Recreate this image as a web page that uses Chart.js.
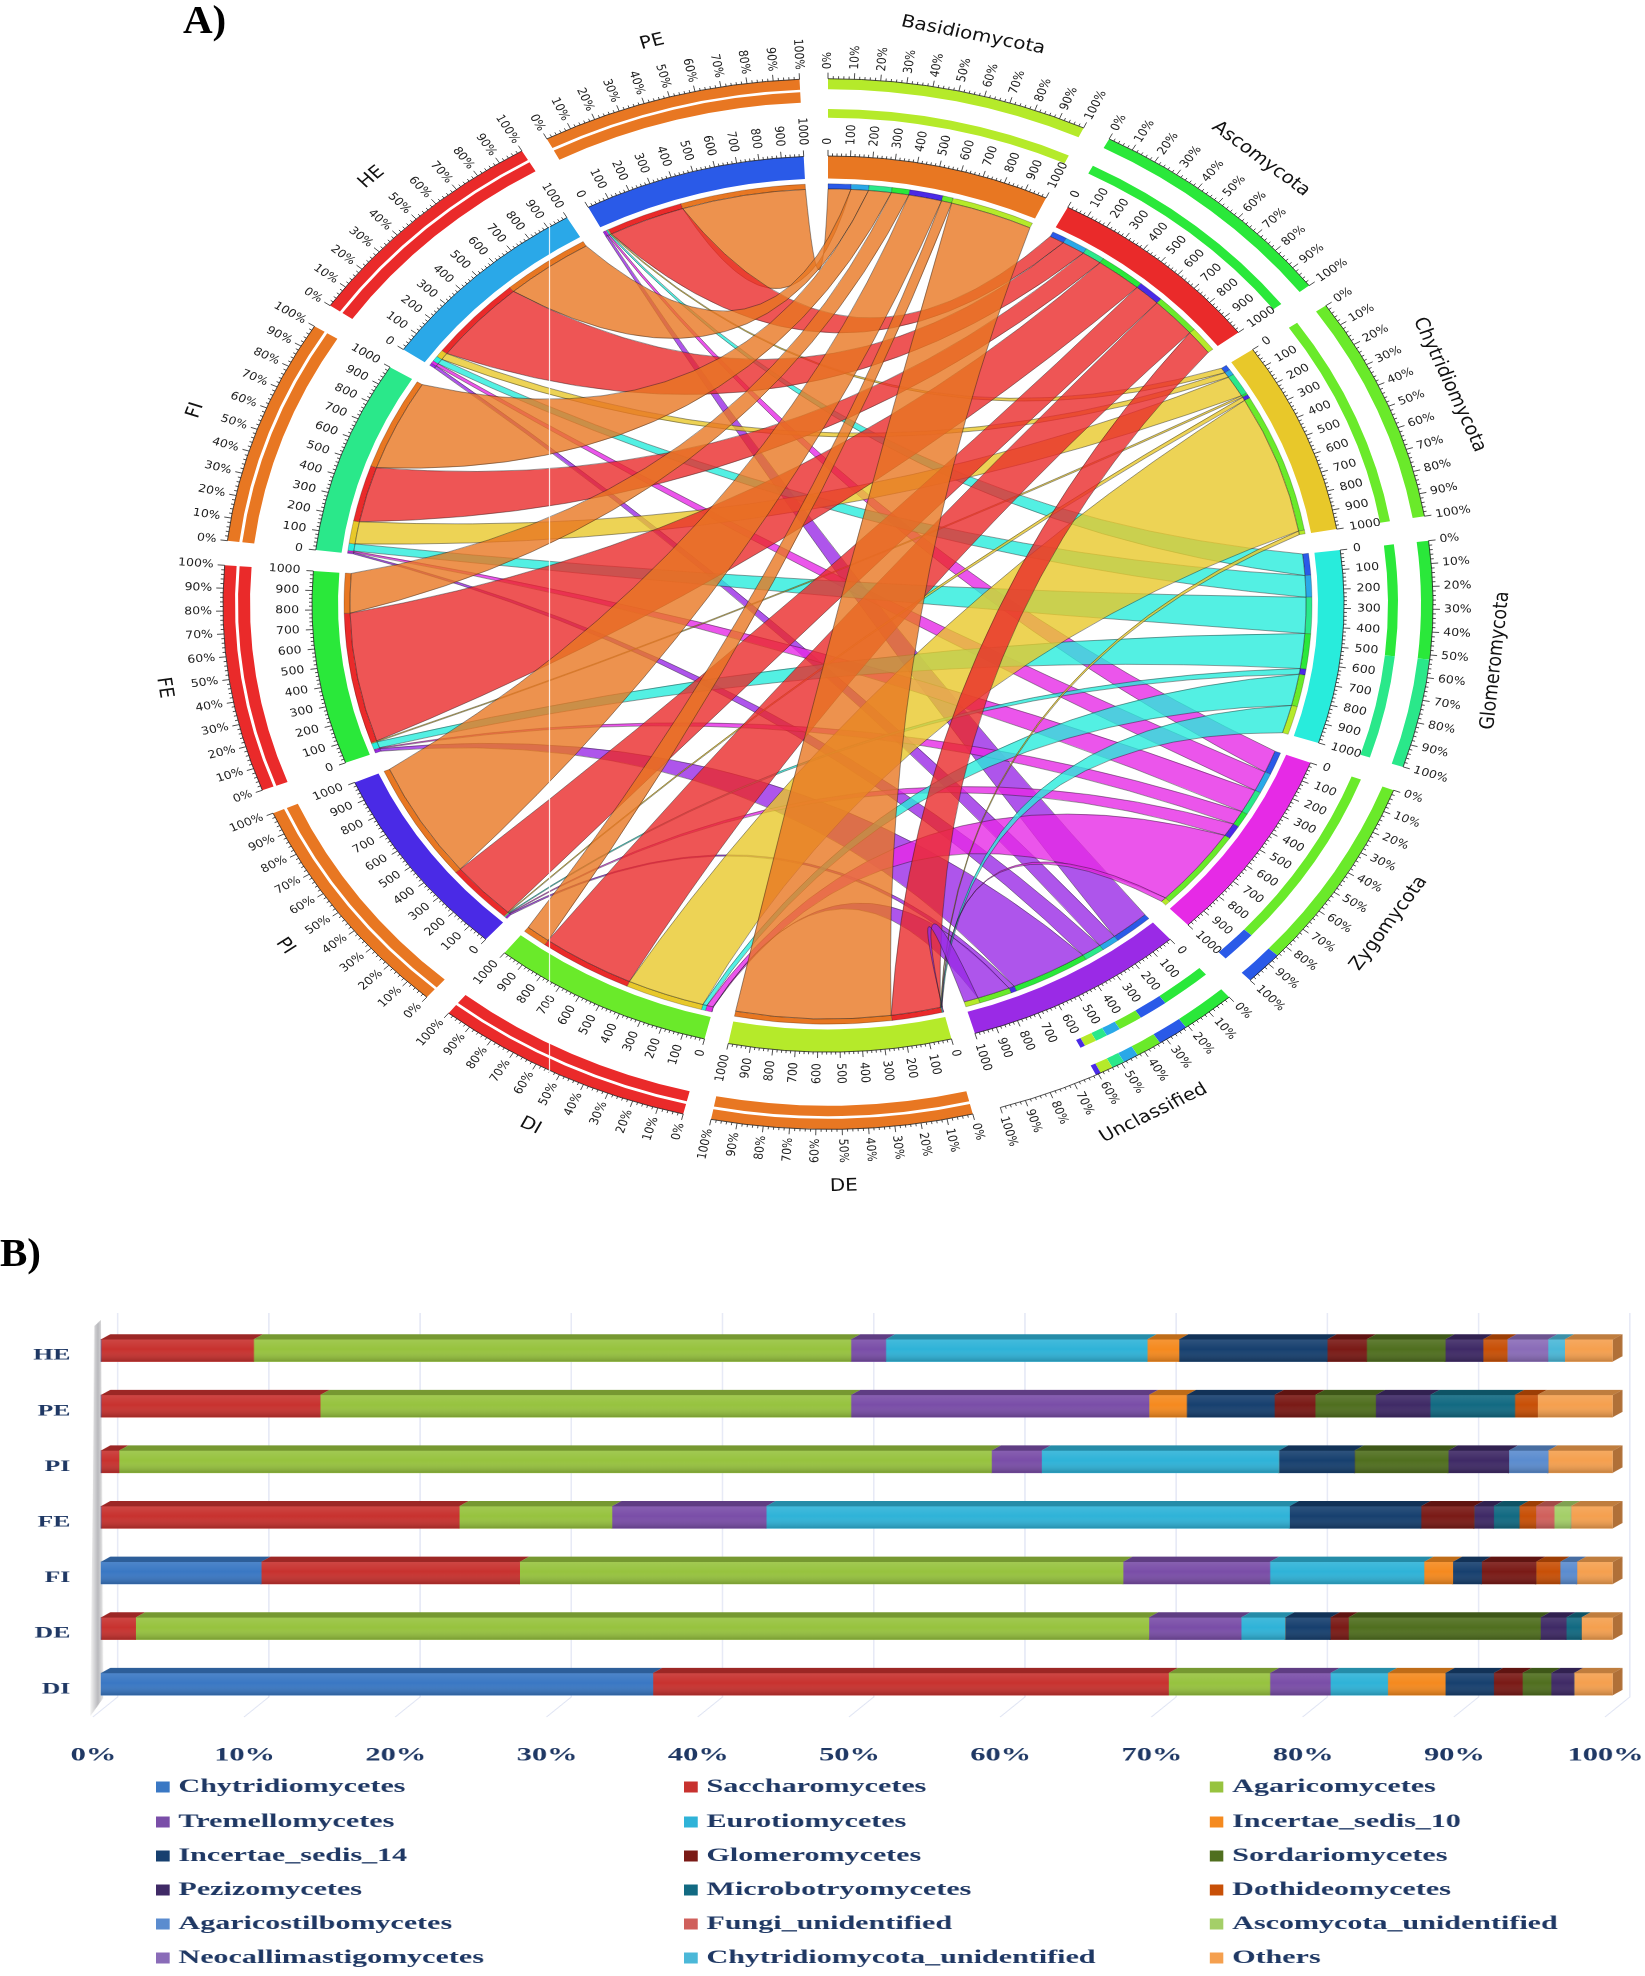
<!DOCTYPE html>
<html><head><meta charset="utf-8">
<style>
html,body{margin:0;padding:0;background:#fff;width:1645px;height:1976px;overflow:hidden}
#chord{position:absolute;left:0;top:0;filter:blur(.35px)}
#bars{position:absolute;left:0;top:1240px}
.tag{position:absolute;font:bold 41px "Liberation Serif",serif;color:#000;line-height:1}
</style>
<script src="https://cdn.jsdelivr.net/npm/chart.js@4"></script>
</head><body>
<canvas id="chord" width="1645" height="1240"></canvas>
<canvas id="bars" width="1028" height="736"></canvas>
<div class="tag" style="left:183px;top:-1px">A)</div>
<div class="tag" style="left:0;top:1232px">B)</div>
<script>
// ---------- Panel A data (each sector runs 0–1000) ----------
const phyla=['Basidiomycota','Ascomycota','Chytridiomycota','Glomeromycota','Zygomycota','Unclassified'];
const samplesCW=['DE','DI','PI','FE','FI','HE','PE'];
const phylumOrder=['PE','HE','FI','FE','PI','DI','DE'];            // clockwise inside a phylum sector
const sampleOrder=['Unclassified','Zygomycota','Glomeromycota','Chytridiomycota','Ascomycota','Basidiomycota']; // clockwise inside a sample sector
const phylumColors=['#e87722','#ea2a2a','#e8c82a','#28ecdc','#e62ae6','#9a2ae6'];
const sampleColors=['#b5ea2a','#6aea2a','#4a2ae6','#2ae83a','#2ae88a','#2aa8e8','#2a5ae8'];

// share of each phylum sector, in phylumOrder
const Basidiomycota_in=[110,85,110,85,160,50,400];
const Ascomycota_in=[72,112,96,224,128,228,140];
const Chytridiomycota_in=[30,30,120,10,20,770,20];
const Glomeromycota_in=[120,120,200,195,32,176,157];
const Zygomycota_in=[125,112,133,80,75,448,27];
const Unclassified_in=[190,86,97,372,27,158,70];
// share of each sample sector, in sampleOrder
const DE_in=[2,2,4,2,240,750];
const DI_in=[3,30,20,375,452,120];
const PI_in=[8,4,4,4,330,650];
const FE_in=[15,5,35,5,720,220];
const FI_in=[8,8,40,124,310,510];
const HE_in=[15,15,30,40,470,430];
const PE_in=[10,8,7,5,370,600];

// percentage rings: [partner, percent]
const Basidiomycota_pct=[['DE',100]];
const Ascomycota_pct=[['FE',100]];
const Chytridiomycota_pct=[['DI',100]];
const Glomeromycota_pct=[['FE',52],['FI',48]];
const Zygomycota_pct=[['DI',85],['PE',15]];
const Unclassified_pct=[['FE',21],['PE',12],['DI',10],['HE',6],['FI',5],['DE',5],['PI',2],[null,39]];
const DE_pct=[['Basidiomycota',100]];
const DI_pct=[['Ascomycota',100]];
const PI_pct=[['Basidiomycota',100]];
const FE_pct=[['Ascomycota',100]];
const FI_pct=[['Basidiomycota',100]];
const HE_pct=[['Ascomycota',100]];
const PE_pct=[['Basidiomycota',100]];

const valueTicks=[0,100,200,300,400,500,600,700,800,900,1000];
const pctTicks=['0%','10%','20%','30%','40%','50%','60%','70%','80%','90%','100%'];

// ---------- Panel B data (percent), rows in barRows order ----------
const barRows=['HE','PE','PI','FE','FI','DE','DI'];
const classNames=['Chytridiomycetes','Saccharomycetes','Agaricomycetes','Tremellomycetes','Eurotiomycetes','Incertae_sedis_10','Incertae_sedis_14','Glomeromycetes','Sordariomycetes','Pezizomycetes','Microbotryomycetes','Dothideomycetes','Agaricostilbomycetes','Fungi_unidentified','Ascomycota_unidentified','Neocallimastigomycetes','Chytridiomycota_unidentified','Others'];
const classColors=['#3a78c4','#c8322f','#97c33f','#7a4ea8','#2fb3d8','#f58a1f','#17406f','#7a1a16','#506f1f','#3f2a66','#126a82','#c85007','#5b8ccf','#d0605c','#a4cf68','#8a6cb8','#4bb8d8','#f5a04f'];
const Chytridiomycetes=[0,0,0,0,10.6,0,36.5];
const Saccharomycetes=[10.1,14.5,1.2,23.7,17.1,2.3,34.1];
const Agaricomycetes=[39.5,35.1,57.7,10.1,39.9,67.0,6.7];
const Tremellomycetes=[2.3,19.7,3.3,10.2,9.7,6.1,4.0];
const Eurotiomycetes=[17.3,0,15.7,34.6,10.2,2.9,3.8];
const Incertae_sedis_10=[2.1,2.5,0,0,1.9,0,3.8];
const Incertae_sedis_14=[9.8,5.8,5.0,8.7,1.9,3.0,3.2];
const Glomeromycetes=[2.6,2.7,0,3.5,3.6,1.2,1.9];
const Sordariomycetes=[5.2,4.0,6.2,0,0,12.7,1.9];
const Pezizomycetes=[2.5,3.6,4.0,1.3,0,1.7,1.5];
const Microbotryomycetes=[0,5.6,0,1.7,0,1.0,0];
const Dothideomycetes=[1.6,1.5,0,1.1,1.6,0,0];
const Agaricostilbomycetes=[0,0,2.6,0,1.1,0,0];
const Fungi_unidentified=[0,0,0,1.2,0,0,0];
const Ascomycota_unidentified=[0,0,0,1.1,0,0,0];
const Neocallimastigomycetes=[2.7,0,0,0,0,0,0];
const Chytridiomycota_unidentified=[1.1,0,0,0,0,0,0];
const Others=[3.2,5.0,4.3,2.8,2.4,2.1,2.6];
const classSeries=[Chytridiomycetes,Saccharomycetes,Agaricomycetes,Tremellomycetes,Eurotiomycetes,Incertae_sedis_10,Incertae_sedis_14,Glomeromycetes,Sordariomycetes,Pezizomycetes,Microbotryomycetes,Dothideomycetes,Agaricostilbomycetes,Fungi_unidentified,Ascomycota_unidentified,Neocallimastigomycetes,Chytridiomycota_unidentified,Others];

// ---------- Panel A build ----------
const GAP=108, NONE='rgba(0,0,0,0)';
const sectors=[...phyla,...samplesCW];
const colorOf={};phyla.forEach((p,i)=>colorOf[p]=phylumColors[i]);samplesCW.forEach((s,i)=>colorOf[s]=sampleColors[i]);
const inOf={Basidiomycota:Basidiomycota_in,Ascomycota:Ascomycota_in,Chytridiomycota:Chytridiomycota_in,Glomeromycota:Glomeromycota_in,Zygomycota:Zygomycota_in,Unclassified:Unclassified_in,DE:DE_in,DI:DI_in,PI:PI_in,FE:FE_in,FI:FI_in,HE:HE_in,PE:PE_in};
const pctOf={Basidiomycota:Basidiomycota_pct,Ascomycota:Ascomycota_pct,Chytridiomycota:Chytridiomycota_pct,Glomeromycota:Glomeromycota_pct,Zygomycota:Zygomycota_pct,Unclassified:Unclassified_pct,DE:DE_pct,DI:DI_pct,PI:PI_pct,FE:FE_pct,FI:FI_pct,HE:HE_pct,PE:PE_pct};

const mainData=[],mainColors=[];
sectors.forEach(s=>{mainData.push(1000,GAP);mainColors.push(colorOf[s],NONE);});
// percent rings; the inner one sits closer in for phyla than for samples
const pctData=[],pctColors=[],pctPhylaColors=[],pctSampleColors=[];
sectors.forEach(s=>{
  const isPhylum=phyla.includes(s);
  pctOf[s].forEach(([p,v])=>{
    const col=p?colorOf[p]:NONE;
    pctData.push(v*10);pctColors.push(col);
    pctPhylaColors.push(isPhylum?col:NONE);pctSampleColors.push(isPhylum?NONE:col);
  });
  pctData.push(GAP);pctColors.push(NONE);pctPhylaColors.push(NONE);pctSampleColors.push(NONE);
});
const stripData=[],stripColors=[],stripBorder=[],stripIndex={};
sectors.forEach(s=>{
  const order=phyla.includes(s)?phylumOrder:sampleOrder;
  order.forEach((partner,i)=>{
    stripIndex[s+'|'+partner]=stripData.length;
    stripData.push(inOf[s][i]);stripColors.push(colorOf[partner]);stripBorder.push(0.5);
  });
  const sum=inOf[s].reduce((a,b)=>a+b,0);
  stripData.push(GAP+1000-sum);stripColors.push(NONE);stripBorder.push(0);
});
const spacer=w=>({data:[1],backgroundColor:[NONE],borderWidth:0,weight:w,clip:false});

const CX=828,DRAW_CY=620,FINAL_CY=604,SQ=448/516,R=516,ROUT=605;
function rgba(h,a){const n=parseInt(h.slice(1),16);return `rgba(${n>>16},${(n>>8)&255},${n&255},${a})`;}

function ribbon(ctx,el1,el2,fill){
  const r=el1.innerRadius,cx=el1.x,cy=el1.y;
  const ctrl=(a,b)=>{
    let d=b-a;while(d>Math.PI)d-=2*Math.PI;while(d<-Math.PI)d+=2*Math.PI;
    const mid=a+d/2,f=0.62*(1-Math.abs(d)/Math.PI);
    return [cx+Math.cos(mid)*r*f,cy+Math.sin(mid)*r*f];
  };
  const pt=a=>[cx+Math.cos(a)*r,cy+Math.sin(a)*r];
  ctx.beginPath();
  ctx.arc(cx,cy,r,el1.startAngle,el1.endAngle);
  let c=ctrl(el1.endAngle,el2.startAngle),p=pt(el2.startAngle);
  ctx.quadraticCurveTo(c[0],c[1],p[0],p[1]);
  ctx.arc(cx,cy,r,el2.startAngle,el2.endAngle);
  c=ctrl(el2.endAngle,el1.startAngle);p=pt(el1.startAngle);
  ctx.quadraticCurveTo(c[0],c[1],p[0],p[1]);
  ctx.closePath();
  ctx.fillStyle=fill;ctx.fill();
  ctx.lineWidth=0.8;ctx.strokeStyle='rgba(20,20,20,.55)';ctx.stroke();
}
function radialText(ctx,cx,cy,r,a,txt){
  const x=cx+Math.cos(a)*r,y=cy+Math.sin(a)*r;
  ctx.save();ctx.translate(x,y);
  if(Math.cos(a)>=-1e-6){ctx.rotate(a);ctx.textAlign='left';}else{ctx.rotate(a+Math.PI);ctx.textAlign='right';}
  ctx.textBaseline='middle';ctx.fillText(txt,0,0);ctx.restore();
}
function tickArc(ctx,cx,cy,r,a0,a1,labels,font,rLabel){
  ctx.strokeStyle='#111';ctx.fillStyle='#222';ctx.lineWidth=0.8;
  ctx.beginPath();ctx.arc(cx,cy,r,a0,a1);ctx.stroke();
  for(let i=0;i<=50;i++){
    const a=a0+(a1-a0)*i/50,len=i%5===0?7:3;
    ctx.beginPath();ctx.moveTo(cx+Math.cos(a)*r,cy+Math.sin(a)*r);
    ctx.lineTo(cx+Math.cos(a)*(r+len),cy+Math.sin(a)*(r+len));ctx.stroke();
  }
  ctx.font=font;
  labels.forEach((t,i)=>radialText(ctx,cx,cy,rLabel,a0+(a1-a0)*i/10,String(t)));
}
const chordPlugin={
  id:'chord',
  beforeDatasetsDraw(chart){
    const c=chart.ctx;c.save();c.translate(CX,FINAL_CY);c.scale(1,SQ);c.translate(-CX,-DRAW_CY);
  },
  afterDatasetsDraw(chart){
    const c=chart.ctx;
    const strip=chart.getDatasetMeta(8).data, main=chart.getDatasetMeta(6).data;
    samplesCW.slice().reverse().forEach(s=>{
      sampleOrder.slice().reverse().forEach(p=>{
        ribbon(c,strip[stripIndex[p+'|'+s]],strip[stripIndex[s+'|'+p]],rgba(colorOf[p],.8));
      });
    });
    sectors.forEach((s,i)=>{
      const el=main[i*2],cx=el.x,cy=el.y,a0=el.startAngle,a1=el.endAngle;
      tickArc(c,cx,cy,R,a0,a1,valueTicks,'12.5px "DejaVu Sans"',R+13);
      tickArc(c,cx,cy,ROUT,a0,a1,pctTicks,'12.5px "DejaVu Sans"',ROUT+11);
      const mid=(a0+a1)/2,r=R*1.3;
      c.save();c.translate(cx+Math.cos(mid)*r,cy+Math.sin(mid)*r);
      let rot=mid+Math.PI/2;if(Math.sin(mid)>0)rot+=Math.PI;
      c.rotate(rot);c.textAlign='center';c.textBaseline='middle';c.font='20px "DejaVu Sans"';c.fillStyle='#111';
      c.fillText(s,0,0);c.restore();
    });
    c.restore();
    // thin white scan line present in the source image
    c.save();c.strokeStyle='rgba(255,255,255,.85)';c.lineWidth=1.2;c.beginPath();c.moveTo(549.5,226);c.lineTo(549.5,1075);c.stroke();c.restore();
  }
};
new Chart(document.getElementById('chord'),{
  type:'doughnut',
  data:{labels:sectors,datasets:[
    {data:pctData,backgroundColor:pctColors,borderWidth:0,weight:12,clip:false},
    spacer(3),
    {data:pctData,backgroundColor:pctSampleColors,borderWidth:0,weight:12,clip:false},
    spacer(8),
    {data:pctData,backgroundColor:pctPhylaColors,borderWidth:0,weight:10,clip:false},
    spacer(44),
    {data:mainData,backgroundColor:mainColors,borderWidth:0,weight:26,clip:false},
    spacer(6),
    {data:stripData,backgroundColor:stripColors,borderColor:'rgba(0,0,0,.45)',borderWidth:stripBorder,weight:6,clip:false}
  ]},
  options:{responsive:false,maintainAspectRatio:false,animation:false,events:[],cutout:(478/605*100)+'%',
    layout:{padding:{left:223,right:212,top:15,bottom:15}},
    plugins:{legend:{display:false},tooltip:{enabled:false}}},
  plugins:[chordPlugin]
});

// ---------- Panel B ----------
const NAVY='#1f3864';
const shade=(h,k)=>{const n=parseInt(h.slice(1),16);const f=v=>Math.round(v*k);return `rgb(${f(n>>16)},${f((n>>8)&255)},${f(n&255)})`;};
const legendCols=[97.5,427.5,756],legendRows=[547,582,616,650,684,718];
const barPlugin={
  id:'bar3d',
  beforeDatasetsDraw(chart){
    const c=chart.ctx,x=chart.scales.x;
    c.save();
    c.strokeStyle='#dde2f2';c.lineWidth=0.7;
    for(let k=0;k<=10;k++){
      const p=x.getPixelForValue(k*10)+10.6;
      c.beginPath();c.moveTo(p,73);c.lineTo(p,457);c.lineTo(p-15.5,477);c.stroke();
    }
    const g=c.createLinearGradient(57,0,64,0);
    g.addColorStop(0,'#eeeeee');g.addColorStop(.6,'#b9b9bd');g.addColorStop(1,'#e2e2e2');
    c.fillStyle=g;c.beginPath();c.moveTo(59,86);c.lineTo(63,80);c.lineTo(64.5,458);c.lineTo(56.5,476);c.closePath();c.fill();
    c.restore();
  },
  afterDatasetsDraw(chart){
    const c=chart.ctx,DX=6,DY=5.3;
    chart.data.datasets.forEach((ds,i)=>{
      chart.getDatasetMeta(i).data.forEach(b=>{
        if(Math.abs(b.x-b.base)<0.01)return;
        const top=b.y-b.height/2,bot=b.y+b.height/2,col=classColors[i];
        c.fillStyle=shade(col,.78);
        c.beginPath();c.moveTo(b.base,top);c.lineTo(b.base+DX,top-DY);c.lineTo(b.x+DX,top-DY);c.lineTo(b.x,top);c.closePath();c.fill();
        const g=c.createLinearGradient(0,top,0,bot);
        g.addColorStop(0,'rgba(255,255,255,.10)');g.addColorStop(.45,'rgba(255,255,255,0)');g.addColorStop(1,'rgba(0,0,0,.2)');
        c.fillStyle=g;c.fillRect(b.base,top,b.x-b.base,bot-top);
        if(i===classSeries.length-1){
          c.fillStyle='#b07038';
          c.beginPath();c.moveTo(b.x,top);c.lineTo(b.x+DX,top-DY);c.lineTo(b.x+DX,bot-DY);c.lineTo(b.x,bot);c.closePath();c.fill();
        }
      });
    });
    c.save();c.font='bold 18.8px "Liberation Serif"';c.textBaseline='middle';c.textAlign='left';
    classNames.forEach((n,i)=>{
      const col=legendCols[i%3],y=legendRows[Math.floor(i/3)];
      c.fillStyle=classColors[i];c.fillRect(col,y-5.5,8.5,11);
      c.fillStyle=NAVY;c.fillText(n,col+14,y);
    });
    c.restore();
  }
};
new Chart(document.getElementById('bars'),{
  type:'bar',
  data:{labels:barRows,datasets:classSeries.map((d,i)=>({label:classNames[i],data:d,backgroundColor:classColors[i],barThickness:22,borderWidth:0}))},
  options:{indexAxis:'y',responsive:false,maintainAspectRatio:false,animation:false,events:[],devicePixelRatio:2,
    layout:{padding:{left:0,right:20.1,top:82.7,bottom:0}},
    plugins:{legend:{display:false},tooltip:{enabled:false}},
    scales:{
      x:{stacked:true,min:0,max:100,grid:{display:false},border:{display:false},
        ticks:{stepSize:10,callback:v=>v+'%',color:NAVY,font:{family:'"Liberation Serif"',weight:'bold',size:19},padding:24,labelOffset:-4.5,maxRotation:0,autoSkip:false},
        afterFit(s){s.height=264;s.paddingLeft=0;s.paddingRight=0;}},
      y:{stacked:true,grid:{display:false},border:{display:false},
        ticks:{color:NAVY,font:{family:'"Liberation Serif"',weight:'bold',size:16},padding:11,labelOffset:5},
        afterFit(s){s.width=62.9;}}
    }},
  plugins:[barPlugin]
});
const bc=document.getElementById('bars');bc.style.width='1645px';bc.style.height='736px';
</script>
</body></html>
